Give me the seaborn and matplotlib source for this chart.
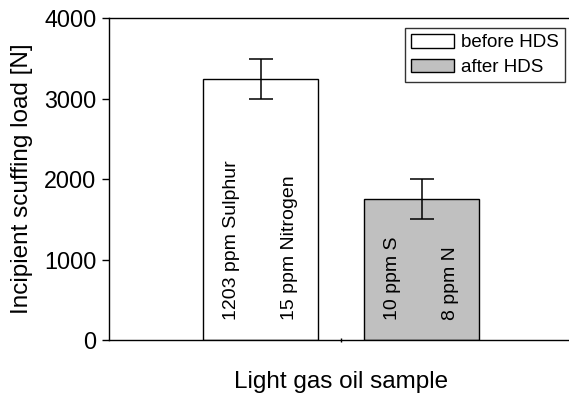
import matplotlib
matplotlib.use("Agg")
import matplotlib.pyplot as plt
from matplotlib.patches import Patch
import seaborn as sns
import pandas as pd

# Data
samples = ["before HDS", "after HDS"]
loads = [3250, 1750]
errors = [250, 250]
fill_colors = ["#FFFFFF", "#C0C0C0"]
bar_notes = [["1203 ppm Sulphur", "15 ppm Nitrogen"], ["10 ppm S", "8 ppm N"]]
note_offsets = [-0.18, 0.18]
yticks = [0, 1000, 2000, 3000, 4000]

sns.set_theme(style="white")
plt.rcParams["font.family"] = ["Liberation Sans", "DejaVu Sans"]
plt.rcParams["text.color"] = "black"
plt.rcParams["axes.labelcolor"] = "black"
plt.rcParams["xtick.color"] = "black"
plt.rcParams["ytick.color"] = "black"

df = pd.DataFrame({"sample": samples, "load": loads})

fig = plt.figure(figsize=(5.69, 3.98), dpi=100)
ax = fig.add_axes([0.1916, 0.1457, 0.8155, 0.8083])

sns.barplot(data=df, x="sample", y="load", hue="sample", palette=fill_colors,
            order=samples, hue_order=samples, width=0.715, errorbar=None,
            edgecolor="black", linewidth=1.0, legend=False, ax=ax, dodge=False)

ax.errorbar(range(len(samples)), loads, yerr=errors, fmt="none", ecolor="black",
            elinewidth=1.1, capsize=8.4, capthick=1.1)

for i, notes in enumerate(bar_notes):
    for off, txt in zip(note_offsets, notes):
        ax.text(i + off, 250, txt, rotation=90, rotation_mode="anchor",
                ha="left", va="center", fontsize=14.0, color="black")

ax.set_xlim(-0.941, 1.941)
ax.set_ylim(0, 4000)
ax.set_yticks(yticks)
ax.set_yticklabels([str(v) for v in yticks])
ax.set_xticks([])
ax.set_xticks([0.5], minor=True)
ax.tick_params(axis="x", which="minor", direction="inout", length=3, width=1, color="black", bottom=True)
ax.tick_params(axis="y", direction="out", length=5, width=1, color="black",
               labelsize=16.8, pad=4.0, left=True, labelcolor="black")

for s in ["left", "top", "bottom"]:
    ax.spines[s].set_color("black")
    ax.spines[s].set_linewidth(1.0)
ax.spines["right"].set_visible(False)

ax.set_xlabel("Light gas oil sample", fontsize=17.5, color="black", va="center")
ax.xaxis.set_label_coords(0.5, -0.130)
ax.set_ylabel("Incipient scuffing load [N]", fontsize=17.5, color="black", va="center")
ax.yaxis.set_label_coords(-0.1875, 0.5)

handles = [Patch(facecolor=c, edgecolor="black", linewidth=1.0) for c in fill_colors]
leg = ax.legend(handles, samples, loc="upper right",
                bbox_to_anchor=(565 / 569, 1 - 28 / 398), bbox_transform=fig.transFigure,
                borderaxespad=0, fontsize=13.5, frameon=True, fancybox=False,
                edgecolor="black", handlelength=2.28, handleheight=0.75,
                handletextpad=0.37, labelspacing=0.38, borderpad=0.32,
                labelcolor="black")
leg.get_frame().set_linewidth(1.0)

fig.savefig("out.png", dpi=100, facecolor="white")
